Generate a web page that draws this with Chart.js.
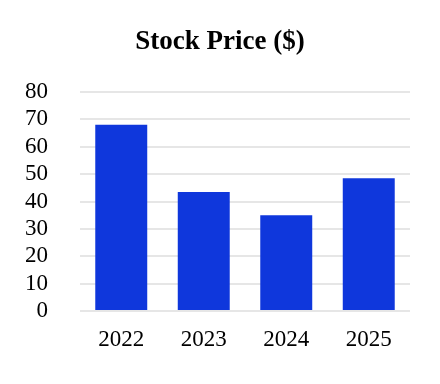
<!DOCTYPE html>
<html>
<head>
<meta charset="utf-8">
<script src="https://cdn.jsdelivr.net/npm/chart.js@4/dist/chart.umd.min.js"></script>
<style>
html,body{margin:0;padding:0;background:#fff;}
#wrap{width:440px;height:384px;}
</style>
</head>
<body>
<div id="wrap"><canvas id="c" width="440" height="384"></canvas></div>
<script>
const categories = ["2022", "2023", "2024", "2025"];
const prices = [68, 43.5, 35, 48.5];
const yTicks = [0, 10, 20, 30, 40, 50, 60, 70, 80];

const FONT = "'Liberation Serif', 'Times New Roman', serif";

new Chart(document.getElementById('c'), {
  type: 'bar',
  data: {
    labels: categories,
    datasets: [{
      label: 'Stock Price ($)',
      data: prices,
      backgroundColor: '#0f37dc',
      borderWidth: 0,
      barPercentage: 0.63,
      categoryPercentage: 1.0,
      yAxisID: 'y'
    }]
  },
  options: {
    responsive: false,
    animation: false,
    layout: { padding: { left: 0, right: 0, top: 0, bottom: 0 } },
    plugins: {
      legend: { display: false },
      tooltip: { enabled: false },
      title: {
        display: true,
        text: 'Stock Price ($)',
        color: '#000',
        font: { family: FONT, size: 27, weight: 'bold' },
        padding: { top: 26, bottom: 33.6 }
      }
    },
    scales: {
      x: {
        grid: { display: false },
        border: { display: false },
        ticks: { color: '#000', font: { family: FONT, size: 23 }, padding: 7, autoSkip: false, maxRotation: 0 },
        afterFit: (axis) => { axis.height = 73; }
      },
      y: {
        min: 0, max: 80,
        afterBuildTicks: (axis) => { axis.ticks = yTicks.map(v => ({ value: v })); },
        grid: { color: '#e6e6e6', lineWidth: 2, drawTicks: false },
        border: { display: false },
        ticks: { color: '#000', font: { family: FONT, size: 23 }, padding: 32, autoSkip: false },
        afterFit: (axis) => { axis.width = 80; }
      },
      yRight: {
        position: 'right',
        min: 0, max: 80,
        grid: { display: false, drawTicks: false },
        border: { display: false },
        ticks: { display: false },
        afterFit: (axis) => { axis.width = 30; }
      }
    }
  }
});
</script>
</body>
</html>
